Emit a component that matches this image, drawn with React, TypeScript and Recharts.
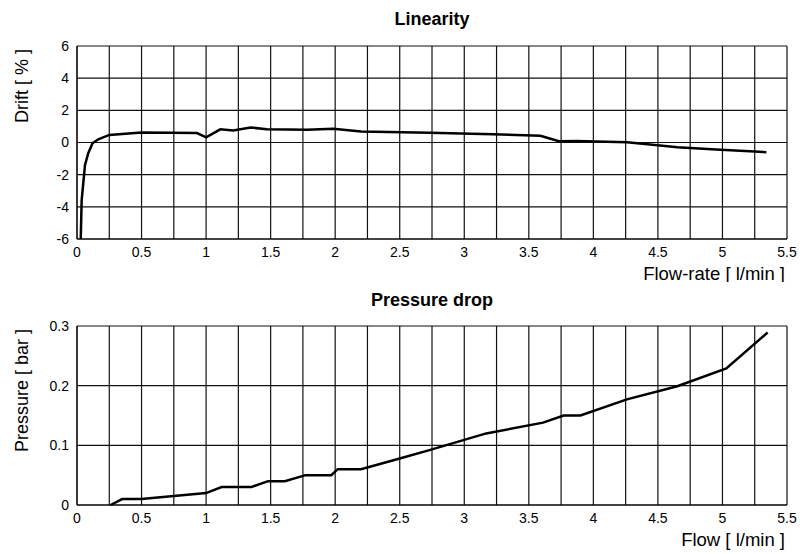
import { LineChart, Line, XAxis, YAxis, CartesianGrid } from "recharts";

// Linearity: drift vs flow-rate
const driftFlow = [0.029, 0.036, 0.062, 0.088, 0.12, 0.165, 0.25, 0.5, 0.93, 1.0, 1.11, 1.21, 1.345, 1.47, 1.78, 1.985, 2.2, 2.73, 3.22, 3.59, 3.74, 3.87, 4.26, 4.44, 4.65, 4.95, 5.34];
const driftValues = [-6, -3.6, -1.4, -0.65, -0.05, 0.2, 0.47, 0.62, 0.59, 0.32, 0.82, 0.75, 0.93, 0.83, 0.79, 0.85, 0.69, 0.6, 0.52, 0.42, 0.07, 0.1, 0.02, -0.12, -0.3, -0.43, -0.6];

// Pressure drop vs flow
const pressureFlow = [0.26, 0.35, 0.5, 0.75, 1.0, 1.12, 1.35, 1.48, 1.61, 1.77, 1.97, 2.02, 2.2, 2.5, 2.73, 3.17, 3.61, 3.77, 3.9, 4.26, 4.65, 5.03, 5.35];
const pressureValues = [0, 0.01, 0.01, 0.015, 0.02, 0.03, 0.03, 0.04, 0.04, 0.05, 0.05, 0.06, 0.06, 0.078, 0.092, 0.12, 0.138, 0.15, 0.15, 0.177, 0.199, 0.229, 0.289];

const flowTicks = [0, 0.25, 0.5, 0.75, 1, 1.25, 1.5, 1.75, 2, 2.25, 2.5, 2.75, 3, 3.25, 3.5, 3.75, 4, 4.25, 4.5, 4.75, 5, 5.25, 5.5];
const driftTicks = [-6, -4, -2, 0, 2, 4, 6];
const pressureTicks = [0, 0.1, 0.2, 0.3];

const linearityData = driftFlow.map((f, i) => ({ flow: f, drift: driftValues[i] }));
const pressureData = pressureFlow.map((f, i) => ({ flow: f, pressure: pressureValues[i] }));

const FONT = "'Liberation Sans', Arial, sans-serif";
const tickStyle = { fill: "#000", fontSize: 14, fontFamily: FONT };

const fmtFlow = (v: number) => (Math.round(v * 100) % 50 === 0 ? String(v) : "");

function YLabel({ viewBox, value }: any) {
  const x = 22;
  const y = viewBox.y + 3;
  return (
    <text x={x} y={y} transform={`rotate(-90 ${x} ${y})`} textAnchor="end" dominantBaseline="central" fontSize={18} fontFamily={FONT} fill="#000">
      {value}
    </text>
  );
}

function XLabel({ viewBox, value }: any) {
  return (
    <text x={viewBox.x + viewBox.width - 2} y={viewBox.y + 34} textAnchor="end" dominantBaseline="central" fontSize={18.5} fontFamily={FONT} fill="#000">
      {value}
    </text>
  );
}

const titleStyle: React.CSSProperties = {
  position: "absolute",
  left: 77,
  width: 710,
  textAlign: "center",
  fontFamily: FONT,
  fontWeight: "bold",
  fontSize: 18,
  color: "#000",
};

export default function App() {
  return (
    <div style={{ position: "absolute", left: 0, top: 0, width: 800, height: 554, background: "#fff" }}>
      <div style={{ ...titleStyle, top: 9 }}>Linearity</div>
      <div style={{ position: "absolute", left: 0, top: 0 }}>
        <LineChart width={800} height={282} data={linearityData} margin={{ top: 46, right: 13, bottom: 0, left: 0 }}>
          <CartesianGrid stroke="#111" strokeWidth={1.2} />
          <XAxis
            dataKey="flow"
            type="number"
            domain={[0, 5.5]}
            ticks={flowTicks}
            tickFormatter={fmtFlow}
            tickLine={false}
            axisLine={{ stroke: "#000" }}
            tick={tickStyle}
            height={43}
            interval={0}
            label={<XLabel value="Flow-rate [ l/min ]" />}
          />
          <YAxis
            type="number"
            domain={[-6, 6]}
            ticks={driftTicks}
            tickLine={false}
            axisLine={{ stroke: "#000" }}
            tick={tickStyle}
            width={77}
            interval={0}
            label={<YLabel value="Drift [ % ]" />}
          />
          <Line dataKey="drift" type="linear" stroke="#000" strokeWidth={2.5} dot={false} isAnimationActive={false} />
        </LineChart>
      </div>
      <div style={{ ...titleStyle, top: 290 }}>Pressure drop</div>
      <div style={{ position: "absolute", left: 0, top: 282 }}>
        <LineChart width={800} height={272} data={pressureData} margin={{ top: 44, right: 13, bottom: 0, left: 0 }}>
          <CartesianGrid stroke="#111" strokeWidth={1.2} />
          <XAxis
            dataKey="flow"
            type="number"
            domain={[0, 5.5]}
            ticks={flowTicks}
            tickFormatter={fmtFlow}
            tickLine={false}
            axisLine={{ stroke: "#000" }}
            tick={tickStyle}
            height={49}
            interval={0}
            label={<XLabel value="Flow [ l/min ]" />}
          />
          <YAxis
            type="number"
            domain={[0, 0.3]}
            ticks={pressureTicks}
            tickLine={false}
            axisLine={{ stroke: "#000" }}
            tick={tickStyle}
            width={77}
            interval={0}
            label={<YLabel value="Pressure [ bar ]" />}
          />
          <Line dataKey="pressure" type="linear" stroke="#000" strokeWidth={2.5} dot={false} isAnimationActive={false} />
        </LineChart>
      </div>
    </div>
  );
}
